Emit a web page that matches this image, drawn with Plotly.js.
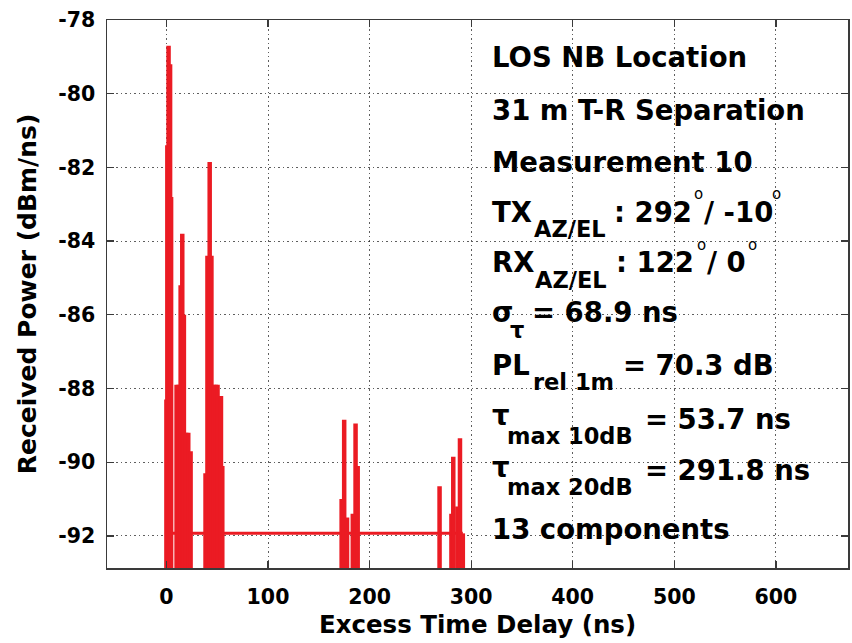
<!DOCTYPE html>
<html>
<head>
<meta charset="utf-8">
<script src="https://cdn.plot.ly/plotly-3.0.1.min.js"></script>
<style>
  html, body { margin: 0; padding: 0; background: #ffffff; }
  #chart { width: 852px; height: 643px; }
</style>
</head>
<body>
<div id="chart"></div>
<script>
// Power delay profile: excess delay of each resolved sample (ns) and its received power (dBm/ns)
const delays = [
  0.0, 0.9, 2.1, 3.6, 4.6,
  10.0, 12.0, 14.0, 15.6, 17.2, 19.5, 21.5, 23.8,
  38.5, 40.4, 42.6, 44.3, 46.4, 48.4, 50.3, 53.7, 55.0,
  172.5, 175.0, 177.8, 183.5, 186.2, 188.3,
  268.9, 280.6, 282.4, 286.5, 289.0, 291.8
];
const powers = [
  -88.3, -81.4, -78.7, -79.2, -82.8,
  -87.9, -87.9, -85.2, -83.8, -86.0, -89.2, -89.2, -89.7,
  -90.3, -84.4, -81.85, -84.4, -87.9, -87.9, -87.9, -88.2, -90.1,
  -91.0, -88.85, -91.5, -91.4, -88.95, -90.1,
  -90.65, -91.4, -89.85, -91.2, -89.35, -91.93
];

// Detection threshold drawn across the span of the profile
const thresholdDelays = [0, 291.8];
const thresholdPowers = [-91.93, -91.93];

// Axis ticks
const xTickVals = [0, 100, 200, 300, 400, 500, 600];
const xTickText = ['0', '100', '200', '300', '400', '500', '600'];
const yTickVals = [-92, -90, -88, -86, -84, -82, -80, -78];
const yTickText = ['-92', '-90', '-88', '-86', '-84', '-82', '-80', '-78'];

// Axis titles
const xTitle = 'Excess Time Delay (ns)';
const yTitle = 'Received Power (dBm/ns)';

// Measurement summary, one row per line; each row split into text runs
const infoText = [
  ['LOS NB Location'],
  ['31 m T-R Separation'],
  ['Measurement 10'],
  ['TX', 'AZ/EL', ': 292', 'o', '/ -10', 'o'],
  ['RX', 'AZ/EL', ': 122', 'o', '/ 0', 'o'],
  ['σ', 'τ', '= 68.9 ns'],
  ['PL', 'rel 1m', '= 70.3 dB'],
  ['τ', 'max 10dB', '= 53.7 ns'],
  ['τ', 'max 20dB', '= 291.8 ns'],
  ['13 components']
];

// ---- layout geometry (pixels) ----
const W = 852, H = 643;
const M = { l: 107, r: 4, t: 20, b: 75 };
const xRange = [-58.5, 671];
const yRange = [-92.87, -78];
const FONT = 'DejaVu Sans, Verdana, sans-serif';
const RED = 'rgb(235,27,35)';

// Placement of each text run: [role, left px, baseline px]
const infoPlace = [
  [['main', 491.7, 66.7]],
  [['main', 491.7, 120]],
  [['main', 491.7, 171.7]],
  [['main', 491.7, 221.7], ['sub', 534, 236.7], ['main', 614, 221.7], ['deg', 694, 199], ['main', 704, 221.7], ['deg', 772, 199]],
  [['main', 491.7, 271.7], ['sub', 535, 288], ['main', 616, 271.7], ['deg', 697, 250], ['main', 707, 271.7], ['deg', 748, 250]],
  [['main', 491.7, 321.7], ['sub', 510, 338], ['main', 531.7, 321.7]],
  [['main', 491.7, 375], ['sub', 533.3, 390], ['main', 623.3, 375]],
  [['main', 491.7, 425], ['sub', 506.7, 443.3], ['main', 645, 428.3]],
  [['main', 491.7, 476.5], ['sub', 506.7, 495], ['main', 645, 480]],
  [['main', 491.7, 538.3]]
];
const roleStyle = {
  main: { size: 27.5, weight: 'bold' },
  sub:  { size: 22.5, weight: 'bold' },
  deg:  { size: 15,   weight: 'normal' }
};

const plotW = W - M.l - M.r, plotH = H - M.t - M.b;
const annotations = [];
infoText.forEach((row, i) => {
  row.forEach((txt, j) => {
    const [role, px, base] = infoPlace[i][j];
    const st = roleStyle[role];
    const centre = base - 0.346 * st.size;
    annotations.push({
      xref: 'paper', yref: 'paper',
      x: (px - M.l) / plotW, y: (H - M.b - centre) / plotH,
      xanchor: 'left', yanchor: 'middle',
      text: txt, showarrow: false, borderpad: 0, borderwidth: 0,
      font: { family: FONT, size: st.size, weight: st.weight, color: '#000' }
    });
  });
});

// Stems: a vertical segment from below the axis up to each sample's power
const floorPower = yRange[0] - 2;
const stemX = [], stemY = [];
delays.forEach((d, i) => {
  stemX.push(d, d, null);
  stemY.push(floorPower, powers[i], null);
});

const traces = [
  {
    type: 'scatter', mode: 'lines',
    x: thresholdDelays, y: thresholdPowers,
    line: { color: RED, width: 3 },
    hoverinfo: 'skip', showlegend: false
  },
  {
    type: 'scatter', mode: 'lines',
    x: stemX, y: stemY,
    line: { color: RED, width: 4.5 },
    connectgaps: false, showlegend: false
  }
];

const axisCommon = {
  showline: true, linecolor: '#3a3a3a', linewidth: 1.5, mirror: 'ticks',
  ticks: 'inside', ticklen: 7, tickwidth: 1.3, tickcolor: '#3a3a3a',
  showgrid: true, gridcolor: 'rgba(40,40,40,0.75)', gridwidth: 1, griddash: '1.5px,3px',
  zeroline: false, automargin: false,
  tickfont: { family: FONT, size: 20.5, weight: 'bold', color: '#000' }
};

const layout = {
  width: W, height: H,
  margin: M,
  paper_bgcolor: '#ffffff', plot_bgcolor: '#ffffff',
  showlegend: false,
  xaxis: Object.assign({}, axisCommon, {
    range: xRange, tickmode: 'array', tickvals: xTickVals, ticktext: xTickText,
    ticklabelstandoff: 10,
    title: { text: xTitle, standoff: 8, font: { family: FONT, size: 24.5, weight: 'bold', color: '#000' } }
  }),
  yaxis: Object.assign({}, axisCommon, {
    range: yRange, tickmode: 'array', tickvals: yTickVals, ticktext: yTickText,
    ticklabelstandoff: 6,
    title: { text: yTitle, standoff: 14, font: { family: FONT, size: 25, weight: 'bold', color: '#000' } }
  }),
  annotations: annotations
};

Plotly.newPlot('chart', traces, layout, { staticPlot: true, displayModeBar: false });
</script>
</body>
</html>
